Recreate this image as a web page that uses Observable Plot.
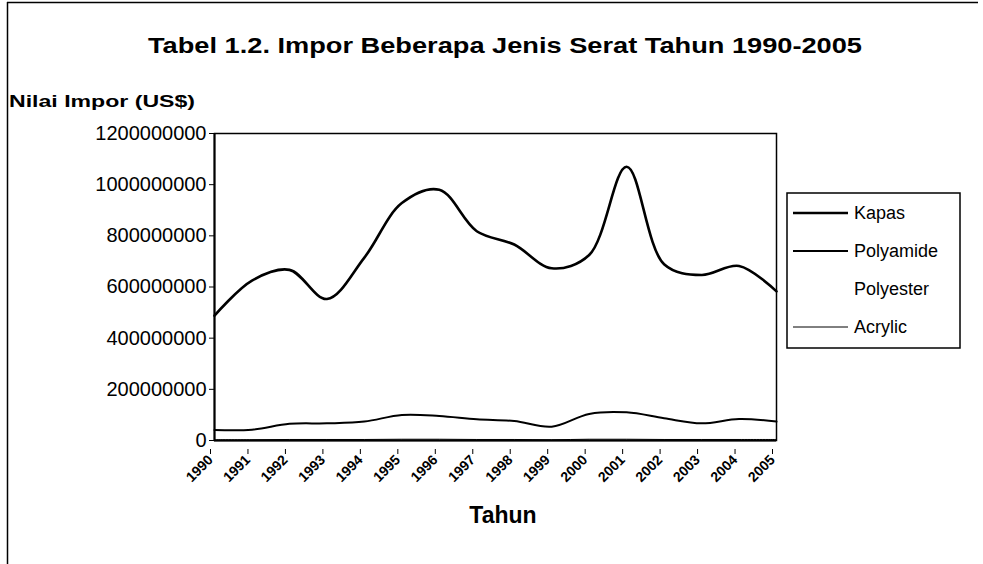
<!DOCTYPE html>
<html><head><meta charset="utf-8">
<script src="https://cdn.jsdelivr.net/npm/d3@7"></script>
<script src="https://cdn.jsdelivr.net/npm/@observablehq/plot@0.6"></script>
<style>body{margin:0;background:#fff} #chart svg{font-family:"Liberation Sans",Arial,sans-serif}</style>
</head><body><div id="chart"></div><script>
const years = [1990,1991,1992,1993,1994,1995,1996,1997,1998,1999,2000,2001,2002,2003,2004,2005];
const kapas = [488000000,625000000,667000000,553000000,715000000,928000000,980000000,818000000,766000000,673000000,725000000,1070000000,689000000,647000000,682000000,583000000];
const polyamide = [41000000,42000000,65000000,67000000,74000000,100000000,96000000,83000000,76000000,54000000,104000000,110000000,87000000,67000000,84000000,74000000];
const polyester = [15000000,18000000,22000000,25000000,28000000,30000000,29000000,27000000,25000000,22000000,26000000,28000000,24000000,22000000,23000000,21000000];
const acrylic = [3000000,3000000,4000000,4000000,4000000,5000000,5000000,4000000,4000000,3000000,5000000,5000000,4000000,4000000,4000000,4000000];
const seriesNames = ["Kapas","Polyamide","Polyester","Acrylic"];
const yTicks = [0,200000000,400000000,600000000,800000000,1000000000,1200000000];
const titleText = "Tabel 1.2. Impor Beberapa Jenis Serat Tahun 1990-2005";
const yLabel = "Nilai Impor (US$)";
const xLabel = "Tahun";

const valuesBy = {Kapas:kapas, Polyamide:polyamide, Polyester:polyester, Acrylic:acrylic};
const style = {Kapas:{stroke:"#000",w:2.6}, Polyamide:{stroke:"#000",w:2}, Polyester:{stroke:"#fff",w:2}, Acrylic:{stroke:"#000",w:1}};
const drawOrder = ["Polyester","Acrylic","Polyamide","Kapas"];
const data = seriesNames.flatMap(s => years.map((y,i)=>({series:s, year:y, value:valuesBy[s][i]})));

const chart = Plot.plot({
  width:983, height:564,
  marginLeft:214, marginRight:207, marginTop:133, marginBottom:124,
  style:{fontFamily:"Liberation Sans, Arial, sans-serif", background:"#fff"},
  x:{domain:[1990,2005]},
  y:{domain:[0,1200000000]},
  marks:[
    ...drawOrder.map(s => Plot.line(data.filter(d=>d.series===s), {x:"year", y:"value", curve:"catmull-rom", stroke:style[s].stroke, strokeWidth:style[s].w})),
    Plot.frame({stroke:"#000", strokeWidth:1.5}),
    Plot.ruleY([0], {stroke:"#000", strokeWidth:2.2}),
    Plot.ruleX([1990], {stroke:"#000", strokeWidth:2}),
    Plot.axisX({ticks:years, tickFormat:d=>String(d), tickRotate:-45, tickSize:5, tickPadding:3, fontSize:14, fontWeight:"bold", dx:-4, dy:9, label:null}),
    Plot.axisY({ticks:yTicks, tickFormat:d3.format("d"), tickSize:5, tickPadding:3, fontSize:20, label:null})
  ]
});
document.getElementById("chart").appendChild(chart);

const svg = d3.select(chart);
svg.selectAll('g[aria-label="y-axis tick label"]').attr("font-size",20);
svg.selectAll('g[aria-label="x-axis tick label"]').attr("font-size",14).attr("font-weight","bold");

// outer frame
svg.append("line").attr("x1",7.5).attr("x2",7.5).attr("y1",2).attr("y2",564).attr("stroke","#000").attr("stroke-width",1.5);
svg.append("line").attr("x1",7).attr("x2",978).attr("y1",2.5).attr("y2",2.5).attr("stroke","#000").attr("stroke-width",1.5);

// title and labels
svg.append("text").attr("x",505).attr("y",53).attr("text-anchor","middle").attr("font-size",22).attr("font-weight","bold")
  .attr("textLength",714).attr("lengthAdjust","spacingAndGlyphs").text(titleText);
svg.append("text").attr("x",9).attr("y",107).attr("text-anchor","start").attr("font-size",17).attr("font-weight","bold")
  .attr("textLength",186).attr("lengthAdjust","spacingAndGlyphs").text(yLabel);
svg.append("text").attr("x",503).attr("y",523).attr("text-anchor","middle").attr("font-size",23).attr("font-weight","bold").text(xLabel);

// legend
const lg = svg.append("g");
lg.append("rect").attr("x",787).attr("y",193).attr("width",173).attr("height",155).attr("fill","#fff").attr("stroke","#000").attr("stroke-width",1.5);
seriesNames.forEach((s,i)=>{
  const y = 213 + i*38;
  lg.append("line").attr("x1",793).attr("x2",848).attr("y1",y).attr("y2",y).attr("stroke",style[s].stroke).attr("stroke-width",style[s].w);
  lg.append("text").attr("x",854).attr("y",y+6).attr("text-anchor","start").attr("font-size",18).text(s);
});
</script></body></html>
